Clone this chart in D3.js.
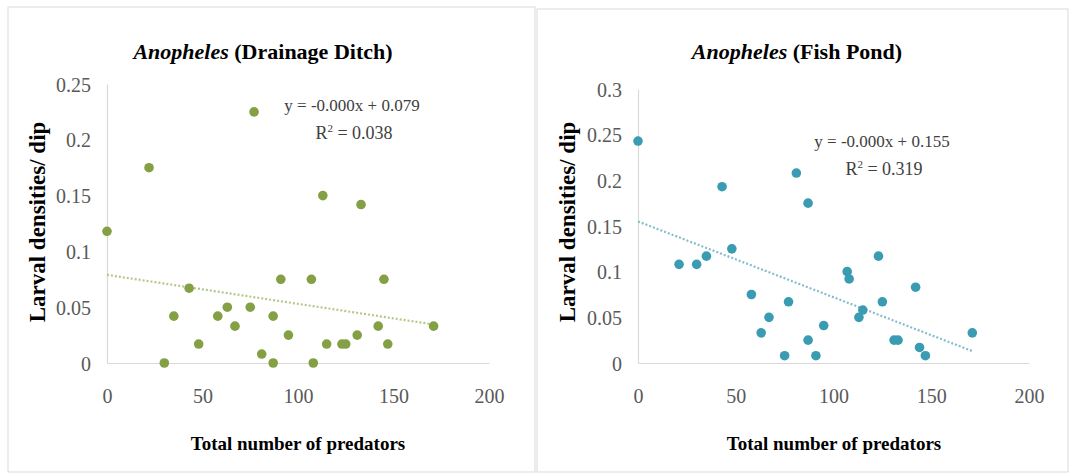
<!DOCTYPE html>
<html>
<head>
<meta charset="utf-8">
<script src="https://cdn.jsdelivr.net/npm/d3@7"></script>
<style>
  html, body { margin: 0; padding: 0; background: #fff; }
  svg { display: block; }
  text { font-family: "Liberation Serif", "Times New Roman", serif; }
</style>
</head>
<body>
<svg id="chart" width="1072" height="475"></svg>
<script>
// Drainage ditch: total predators vs Anopheles larvae per dip
const ditchPredators = [0, 22, 77, 113, 133, 43, 91, 107, 145, 35, 58, 63, 75, 67, 48, 30, 81, 87, 87, 95, 108, 115, 123, 125, 131, 142, 147, 171];
const ditchLarvae    = [0.118, 0.175, 0.225, 0.150, 0.142, 0.067, 0.075, 0.075, 0.075, 0.042, 0.042, 0.050, 0.050, 0.033, 0.017, 0, 0.008, 0.042, 0, 0.025, 0, 0.017, 0.017, 0.017, 0.025, 0.033, 0.017, 0.033];

// Fish pond: total predators vs Anopheles larvae per dip
const pondPredators = [0, 43, 81, 87, 48, 21, 30, 35, 58, 77, 67, 63, 75, 87, 91, 95, 107, 108, 113, 115, 123, 125, 131, 133, 142, 144, 147, 171];
const pondLarvae    = [0.243, 0.193, 0.208, 0.175, 0.125, 0.108, 0.108, 0.117, 0.075, 0.067, 0.050, 0.033, 0.008, 0.025, 0.008, 0.041, 0.100, 0.092, 0.050, 0.058, 0.117, 0.067, 0.025, 0.025, 0.083, 0.017, 0.008, 0.033];

// Linear trend lines: [slope, intercept as printed in the equations]
const ditchTrend = [-0.00026, 0.079];
const pondTrend  = [-0.00083, 0.155];

const xTicks = [0, 50, 100, 150, 200];
const ditchYTicks = [0, 0.05, 0.1, 0.15, 0.2, 0.25];
const pondYTicks  = [0, 0.05, 0.1, 0.15, 0.2, 0.25, 0.3];

const SERIF = '"Liberation Serif", "Times New Roman", serif';

const panels = [
  {
    frame: [8, 7, 527, 465],
    place: "Drainage Ditch",
    xs: ditchPredators, ys: ditchLarvae, trend: ditchTrend,
    yTicks: ditchYTicks, yMax: 0.25,
    plot: { x0: 107, x1: 489, y0: 363, y1: 84 },
    titleX: 263, yTitleX: 38, xTitleX: 298,
    eq: ["y = -0.000x + 0.079", "0.038"], eqX: 352, eqY: 111,
    dot: "#84a045", line: "#b3c98a"
  },
  {
    frame: [537, 9, 531, 463],
    place: "Fish Pond",
    xs: pondPredators, ys: pondLarvae, trend: pondTrend,
    yTicks: pondYTicks, yMax: 0.3,
    plot: { x0: 638, x1: 1029, y0: 363, y1: 89 },
    titleX: 797, yTitleX: 568, xTitleX: 834,
    eq: ["y = -0.000x + 0.155", "0.319"], eqX: 882, eqY: 147,
    dot: "#3a9cb2", line: "#86bccd"
  }
];

const svg = d3.select("#chart");

panels.forEach(p => {
  const g = svg.append("g");

  g.append("rect")
    .attr("x", p.frame[0]).attr("y", p.frame[1])
    .attr("width", p.frame[2]).attr("height", p.frame[3])
    .attr("fill", "#fff").attr("stroke", "#d9d9d9").attr("stroke-width", 1);

  const x = d3.scaleLinear().domain([0, 200]).range([p.plot.x0, p.plot.x1]);
  const y = d3.scaleLinear().domain([0, p.yMax]).range([p.plot.y0, p.plot.y1]);

  // axes
  const xAxis = g.append("g")
    .attr("transform", `translate(0,${p.plot.y0})`)
    .call(d3.axisBottom(x).tickValues(xTicks).tickSize(0).tickPadding(26).tickFormat(d3.format("d")));
  const yAxis = g.append("g")
    .attr("transform", `translate(${p.plot.x0},0)`)
    .call(d3.axisLeft(y).tickValues(p.yTicks).tickSize(0).tickPadding(16).tickFormat(d => d === 0 ? "0" : String(+d.toFixed(2))));
  [xAxis, yAxis].forEach(a => {
    a.attr("font-family", SERIF).attr("font-size", 20);
    a.select(".domain").attr("stroke", "#d9d9d9").attr("stroke-width", 1.2);
    a.selectAll("text").attr("fill", "#595959");
  });
  yAxis.selectAll("text").attr("dy", "0.35em");

  // trend line across the observed range
  const xr = d3.extent(p.xs);
  const line = d3.line().x(d => x(d)).y(d => y(p.trend[0] * d + p.trend[1]));
  g.append("path")
    .attr("d", line(xr))
    .attr("fill", "none")
    .attr("stroke", p.line)
    .attr("stroke-width", 2.2)
    .attr("stroke-dasharray", "2,2");

  // points
  g.selectAll("circle.pt")
    .data(p.xs.map((v, i) => [v, p.ys[i]]))
    .join("circle")
    .attr("class", "pt")
    .attr("cx", d => x(d[0]))
    .attr("cy", d => y(d[1]))
    .attr("r", 4.8)
    .attr("fill", p.dot);

  // title
  const t = g.append("text")
    .attr("x", p.titleX).attr("y", 59)
    .attr("text-anchor", "middle")
    .attr("font-family", SERIF)
    .attr("font-size", 22).attr("font-weight", "bold").attr("fill", "#000");
  t.append("tspan").attr("font-style", "italic").text("Anopheles");
  t.append("tspan").text(` (${p.place})`);

  // axis titles
  g.append("text")
    .attr("x", p.xTitleX).attr("y", 450)
    .attr("text-anchor", "middle")
    .attr("font-family", SERIF)
    .attr("font-size", 19).attr("font-weight", "bold").attr("fill", "#000")
    .text("Total number of predators");
  g.append("text")
    .attr("transform", `translate(${p.yTitleX + 7},222) rotate(-90)`)
    .attr("text-anchor", "middle")
    .attr("font-family", SERIF)
    .attr("font-size", 23).attr("font-weight", "bold").attr("fill", "#000")
    .text("Larval densities/ dip");

  // regression equation
  g.append("text")
    .attr("x", p.eqX).attr("y", p.eqY)
    .attr("text-anchor", "middle")
    .attr("font-family", SERIF)
    .attr("font-size", 17).attr("fill", "#404040")
    .text(p.eq[0]);
  const r2 = g.append("text")
    .attr("x", p.eqX + 2).attr("y", p.eqY + 28)
    .attr("text-anchor", "middle")
    .attr("font-family", SERIF)
    .attr("font-size", 18).attr("fill", "#404040");
  r2.append("tspan").text("R");
  r2.append("tspan").attr("font-size", 11).attr("dy", -7).text("2");
  r2.append("tspan").attr("dy", 7).text(` = ${p.eq[1]}`);
});
</script>
</body>
</html>
